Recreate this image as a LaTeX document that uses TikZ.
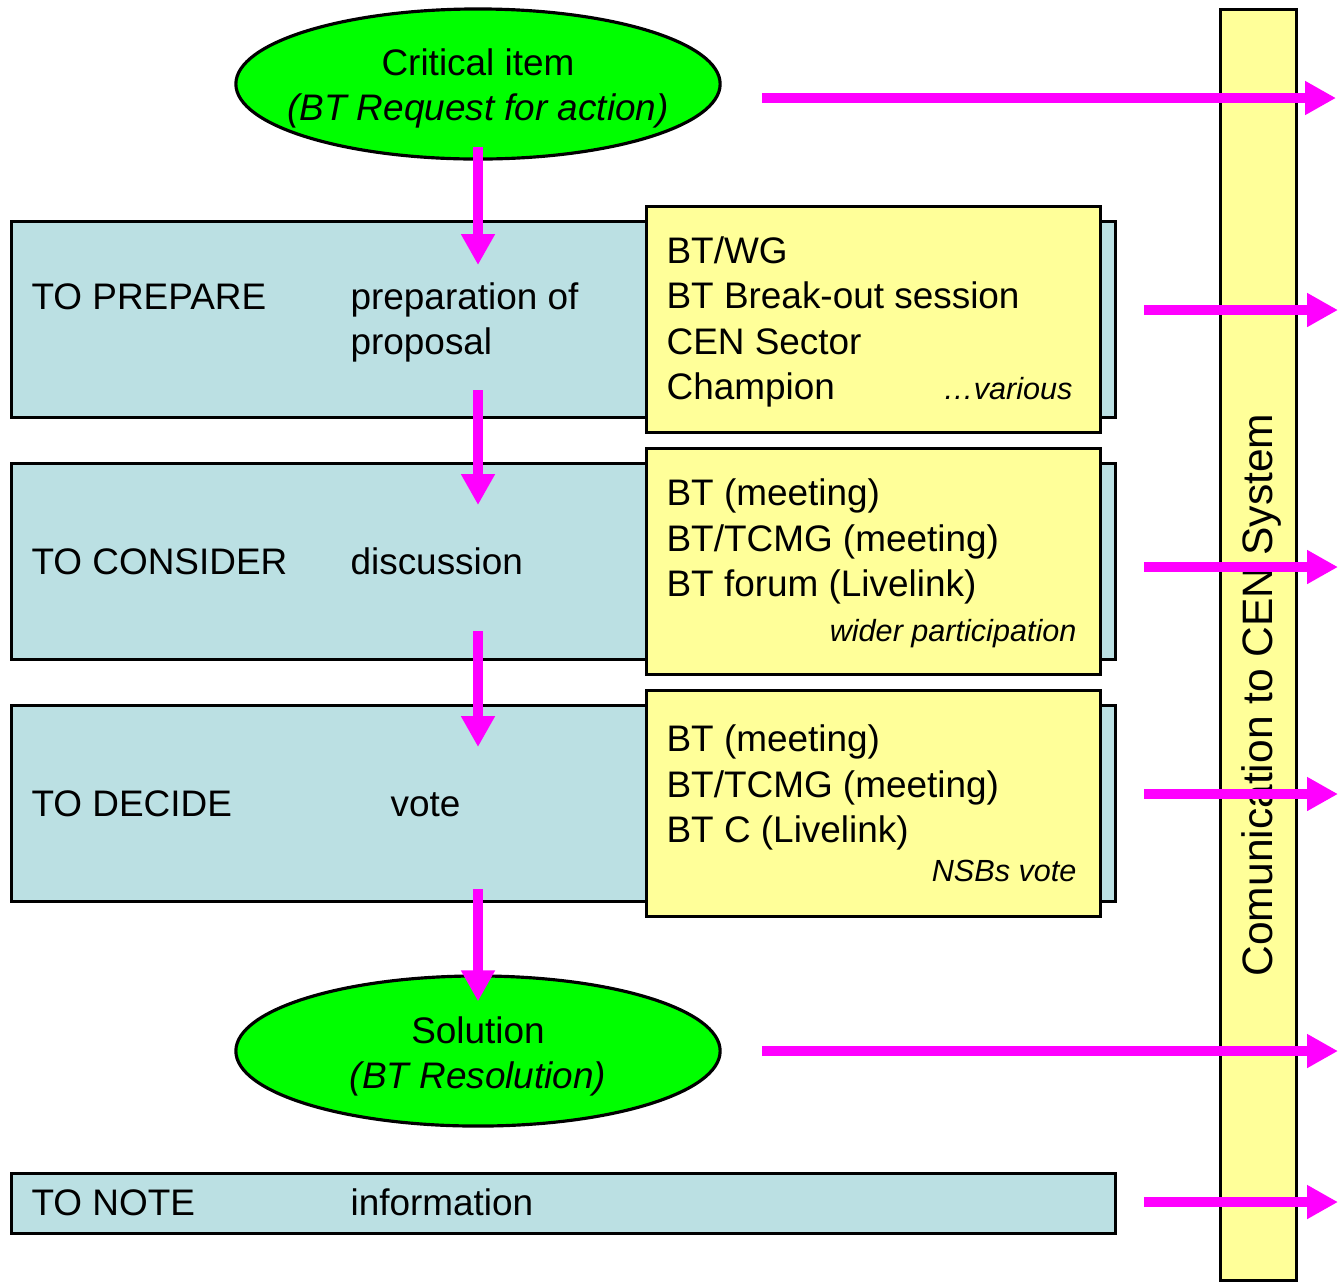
\documentclass[tikz,border=0pt]{standalone}
\usepackage{fontspec}
\setmainfont{Liberation Sans}
\usetikzlibrary{arrows.meta,shapes.geometric,positioning}
\definecolor{stageblue}{HTML}{BBE0E3}
\definecolor{notepad}{HTML}{FFFF99}
\definecolor{flowpink}{HTML}{FF00FF}
\definecolor{itemgreen}{HTML}{00FF00}

\begin{document}
\begin{tikzpicture}[x=0.01cm, y=-0.01cm, line width=0.9pt,
    every node/.style={font=\fontsize{10.5}{12.8}\selectfont, inner sep=0pt},
    stage/.style={draw, fill=stageblue, anchor=north west, minimum width=11.03cm},
    pad/.style={draw, fill=notepad, anchor=north west, minimum width=4.54cm, minimum height=2.26cm},
    item/.style={draw, ellipse, fill=itemgreen, minimum width=4.84cm, minimum height=1.5cm},
    lbl/.style={anchor=base west, align=left},
    aside/.style={anchor=base east, font=\fontsize{8.7}{10}\selectfont\itshape},
    flow/.style={draw=flowpink, line width=0.105cm, -{Triangle[length=0.31cm, width=0.32cm]}}]
  \useasboundingbox (0,0) rectangle (1343,1284);
  % side bar
  \node[draw, fill=notepad, anchor=north west, minimum width=0.76cm, minimum height=12.7cm] (Bar) at (1219,8) {};
  \node[anchor=base, rotate=90, font=\fontsize{12.1}{14}\selectfont] (BarText) at (1272,695) {Comunication to CEN System};
  % start and end
  \node[item] (Crit) at (478,84) {};
  \node[align=center, yshift=-0.04cm] (CritText) at (Crit) {Critical item\\\textit{(BT Request for action)}};
  \node[item] (Sol) at (478,1051) {};
  \node[align=center, yshift=-0.05cm] (SolText) at (Sol) {Solution\\\textit{(BT Resolution)}};
  % stages
  \node[stage, minimum height=1.96cm] (Prep) at (10,220) {};
  \node[stage, minimum height=1.96cm] (Cons) at (10,462) {};
  \node[stage, minimum height=1.96cm] (Dec) at (10,704) {};
  \node[stage, minimum height=0.6cm] (Note) at (10,1172) {};
  \node[pad] (PrepPad) at (645,205) {};
  \node[pad] (ConsPad) at (645,447) {};
  \node[pad] (DecPad) at (645,689) {};
  % stage texts (base = last line)
  \node[lbl] (PrepName) at (30,309) {TO PREPARE};
  \node[lbl] (PrepWhat) at (349,354) {preparation of\\proposal};
  \node[lbl] (ConsName) at (30,574) {TO CONSIDER};
  \node[lbl] (ConsWhat) at (349,574) {discussion};
  \node[lbl] (DecName) at (30,816) {TO DECIDE};
  \node[lbl] (DecWhat) at (389,816) {vote};
  \node[lbl] (NoteName) at (30,1215) {TO NOTE};
  \node[lbl] (NoteWhat) at (349,1215) {information};
  % who
  \node[lbl] (PrepWho) at (665,399) {BT/WG\\BT Break-out session\\CEN Sector\\Champion};
  \node[aside] (PrepHow) at (1074,399) {\dots various};
  \node[lbl] (ConsWho) at (665,596) {BT (meeting)\\BT/TCMG (meeting)\\BT forum (Livelink)};
  \node[aside] (ConsHow) at (1078,641) {wider participation};
  \node[lbl] (DecWho) at (665,842) {BT (meeting)\\BT/TCMG (meeting)\\BT C (Livelink)};
  \node[aside] (DecHow) at (1078,881) {NSBs vote};
  % main flow
  \draw[flow] ([yshift=0.14cm]Crit.south) -- ([yshift=-0.45cm]Prep.north -| Crit.south);
  \draw[flow] ([yshift=0.29cm]Prep.south -| Crit.south) -- ([yshift=-0.43cm]Cons.north -| Crit.south);
  \draw[flow] ([yshift=0.30cm]Cons.south -| Crit.south) -- ([yshift=-0.43cm]Dec.north -| Crit.south);
  \draw[flow] ([yshift=0.14cm]Dec.south -| Crit.south) -- ([yshift=-0.27cm]Sol.north);
  % to the CEN system
  \coordinate (CritOut) at (762,98);
  \coordinate (CritIn) at (1336,98);
  \coordinate (PrepOut) at (1144,310);
  \coordinate (PrepIn) at (1338,310);
  \coordinate (ConsOut) at (1144,567);
  \coordinate (ConsIn) at (1338,567);
  \coordinate (DecOut) at (1144,794);
  \coordinate (DecIn) at (1338,794);
  \coordinate (SolOut) at (762,1051);
  \coordinate (SolIn) at (1338,1051);
  \coordinate (NoteOut) at (1144,1202);
  \coordinate (NoteIn) at (1338,1202);
  \draw[flow] (CritOut) -- (CritIn);
  \draw[flow] (PrepOut) -- (PrepIn);
  \draw[flow] (ConsOut) -- (ConsIn);
  \draw[flow] (DecOut) -- (DecIn);
  \draw[flow] (SolOut) -- (SolIn);
  \draw[flow] (NoteOut) -- (NoteIn);
\end{tikzpicture}
\end{document}
